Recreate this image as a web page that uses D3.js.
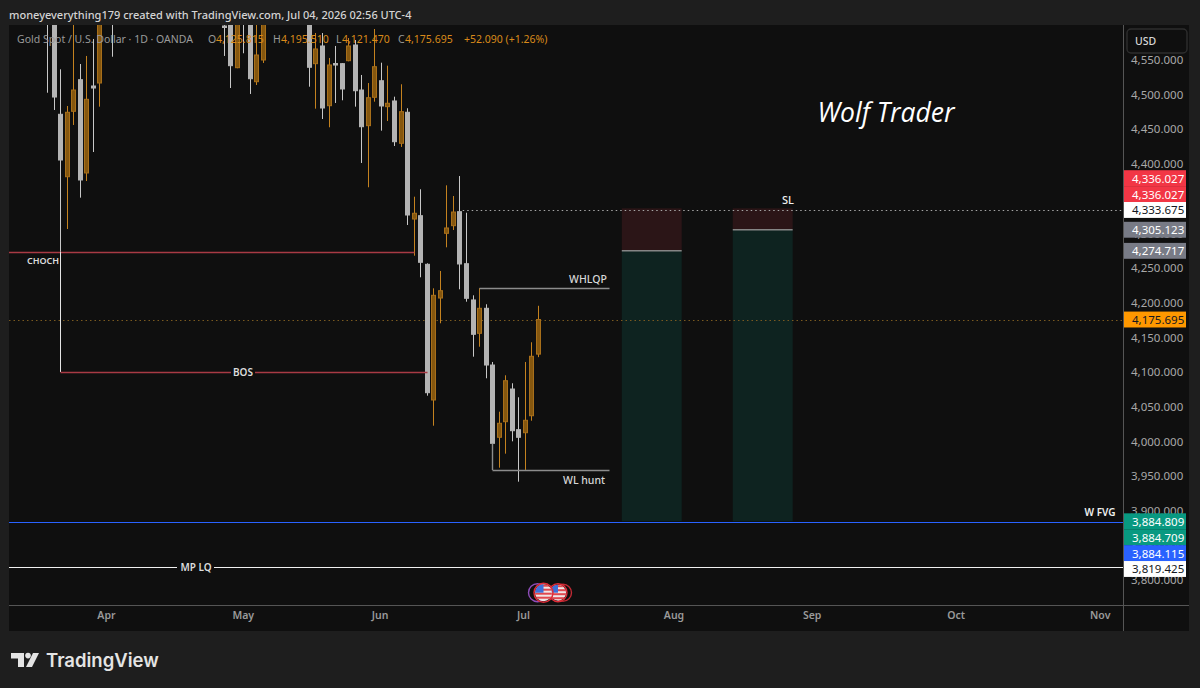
<!DOCTYPE html>
<html>
<head>
<meta charset="utf-8">
<script src="https://cdn.jsdelivr.net/npm/d3@7"></script>
<style>
  html, body { margin: 0; padding: 0; background: #1e1e1e; overflow: hidden; }
  svg { display: block; font-family: "Noto Sans", sans-serif; }
</style>
</head>
<body>
<div id="chart"></div>
<script>
// daily candles, only those that reach into the visible price range
const candleIdx = [0,1,2,3,4,5,6,7,8,10,27,28,29,30,31,32,33,40,41,42,43,44,45,46,47,48,49,50,51,52,53,54,55,56,57,58,59,60,61,62,63,64,65,66,67,68,69,70,71,72,73,74,75];
const opens  = [4650,4640,4471.6,4381.6,4475.9,4521.5,4387,4512.4,4516.7,4650,4598.9,4640,4538.8,4650,4640,4518.6,4549.9,4640,4544.6,4570.1,4484,4544.8,4544.6,4548.9,4571.5,4506.6,4455.2,4496.1,4520,4482.6,4490.8,4429.8,4474.5,4320.6,4325.4,4255.3,4059.7,4206.7,4300,4311,4331.2,4256.2,4203.9,4155.8,4191.9,4110.1,4005.9,4028.4,4075.5,4016.9,4012.5,4037,4125.815];
const highs  = [4660,4650,4536.5,4483.6,4620,4544.1,4555.7,4580.2,4640,4660,4605,4650,4650,4655,4650,4620,4640,4650,4588.8,4588.8,4552.8,4570.1,4545.5,4581.6,4578.7,4528.3,4516.7,4594.6,4546,4541.7,4497,4514.9,4480.3,4352.8,4363.5,4256.8,4220.7,4245.7,4369.2,4353.8,4382.6,4329.7,4210.6,4220.7,4197.7,4114.5,4042.8,4095.3,4083.8,4063.6,4114.5,4142.9,4195.51];
const lows   = [4502.7,4477.8,4273.1,4306.2,4456.2,4351.4,4375.4,4417.2,4482.6,4554.6,4555.7,4509.5,4538,4559.6,4500.9,4513.8,4545.6,4511.4,4479.7,4464.8,4452.9,4487.9,4491.8,4548,4482.6,4401.4,4366.4,4489.8,4448,4461.9,4425.9,4424.5,4312,4267.7,4236.6,4065.9,4022.6,4170.3,4279.8,4304.8,4219.3,4201.4,4122.1,4136.5,4091,3958.8,3962.1,3982.3,4000.1,3941.9,3958.8,4029.8,4121.47];
const closes = [4630,4496.5,4405.7,4474.5,4506.6,4376.9,4493.2,4509.5,4630,4610,4596.8,4541.7,4640,4615,4522.9,4557.1,4630,4539.4,4565.8,4480.7,4542.7,4542.7,4508.1,4570.1,4505.6,4453.7,4495.5,4540.2,4483.6,4487.5,4432.1,4475.4,4326.4,4328.9,4258.2,4070.2,4210.6,4217.3,4307.7,4330.7,4255.8,4206.3,4154.4,4191.9,4110.1,3997.2,4026.1,4087.5,4015.4,4005.9,4030.4,4122.7,4175.695];

const monthLabels = ["Apr","May","Jun","Jul","Aug","Sep","Oct","Nov"];
const monthIdx = [9, 29.9, 50.8, 72.7, 95.7, 116.8, 138.8, 160.8];
const priceTicks = [3800,3850,3900,3950,4000,4050,4100,4150,4200,4250,4300,4350,4400,4450,4500,4550];

const tagValues = [4336.027,4336.027,4333.675,4305.123,4274.717,4175.695,3884.809,3884.709,3884.115,3819.425];
const tagFills  = ["#f23645","#f23645","#ffffff","#787b86","#787b86","#ff9800","#089981","#089981","#2962ff","#ffffff"];
const tagInks   = ["#fff","#fff","#131722","#fff","#fff","#131722","#fff","#fff","#fff","#131722"];

const W = 1200, H = 688;
const panel = {left: 9, top: 25, right: 1189, bottom: 631};
const axisX = 1123, axisY = 605;

const x = d3.scaleLinear().domain([0, 75]).range([47, 538]);
const y = d3.scaleLinear().domain([3800, 4500]).range([580.1, 94.6]);
const snap = v => Math.round(v) + 0.5;

const ORANGE_FILL = "#85570f", ORANGE_LINE = "#a86f1a", ORANGE_WICK = "#c4821f";
const GREY_BODY = "#b4b4b4", GREY_WICK = "#c8c8c8";

const svg = d3.select("#chart").append("svg").attr("width", W).attr("height", H);

svg.append("rect").attr("width", W).attr("height", H).attr("fill", "#1e1e1e");
svg.append("rect").attr("x", panel.left).attr("y", panel.top)
  .attr("width", panel.right - panel.left).attr("height", panel.bottom - panel.top).attr("fill", "#0f0f0f");

svg.append("defs").append("clipPath").attr("id", "plot").append("rect")
  .attr("x", panel.left).attr("y", panel.top).attr("width", axisX - panel.left).attr("height", axisY - panel.top);

const plot = svg.append("g").attr("clip-path", "url(#plot)");

// position boxes (long / short tools)
function positionBox(i0, i1, stop, entry, target) {
  plot.append("rect").attr("x", x(i0)).attr("width", x(i1) - x(i0))
    .attr("y", y(stop)).attr("height", y(entry) - y(stop)).attr("fill", "#2b1517");
  plot.append("rect").attr("x", x(i0)).attr("width", x(i1) - x(i0))
    .attr("y", y(entry)).attr("height", y(target) - y(entry)).attr("fill", "#0e2320");
  plot.append("line").attr("x1", x(i0)).attr("x2", x(i1)).attr("y1", y(entry)).attr("y2", y(entry))
    .attr("stroke", "#858585").attr("stroke-width", 1.5);
}
positionBox(87.8, 96.95, 4336.027, 4274.717, 3884.809);
positionBox(104.75, 113.9, 4336.027, 4305.123, 3884.709);

// price lines
plot.append("line").attr("x1", x(63.5)).attr("x2", axisX).attr("y1", snap(y(4333.675))).attr("y2", snap(y(4333.675)))
  .attr("stroke", "#a8a8a8").attr("stroke-dasharray", "1.5 3");
plot.append("line").attr("x1", panel.left).attr("x2", axisX).attr("y1", snap(y(4175.695))).attr("y2", snap(y(4175.695)))
  .attr("stroke", "#7a5a20").attr("stroke-dasharray", "1.5 3");

// candles
const candles = candleIdx.map((idx, i) => ({idx, o: opens[i], h: highs[i], l: lows[i], c: closes[i]}));
const bodyW = 4;

plot.selectAll("line.wick").data(candles).enter().append("line")
  .attr("class", "wick")
  .attr("x1", d => snap(x(d.idx))).attr("x2", d => snap(x(d.idx)))
  .attr("y1", d => y(d.h)).attr("y2", d => y(d.l))
  .attr("stroke", d => d.c >= d.o ? ORANGE_WICK : GREY_WICK)
  .attr("stroke-width", 1);

plot.selectAll("rect.body").data(candles).enter().append("rect")
  .attr("class", "body")
  .attr("x", d => snap(x(d.idx)) - bodyW / 2).attr("width", bodyW)
  .attr("y", d => y(Math.max(d.o, d.c)))
  .attr("height", d => Math.max(1.5, Math.abs(y(d.o) - y(d.c))))
  .attr("fill", d => d.c >= d.o ? ORANGE_FILL : GREY_BODY)
  .attr("stroke", d => d.c >= d.o ? ORANGE_LINE : GREY_BODY);

// structure lines with their labels
function seg(i0, p0, i1, p1, color, width) {
  const flat = p0 === p1;
  plot.append("line")
    .attr("x1", i0 === null ? panel.left : snap(x(i0)))
    .attr("x2", i1 === "end" ? axisX : snap(x(i1)))
    .attr("y1", flat ? snap(y(p0)) : y(p0)).attr("y2", flat ? snap(y(p1)) : y(p1))
    .attr("stroke", color).attr("stroke-width", width || 1);
}
function note(txt, px, py, size, color, weight) {
  plot.append("text").attr("x", px).attr("y", py).attr("text-anchor", "middle")
    .attr("dominant-baseline", "central")
    .attr("font-size", size).attr("fill", color || "#e0e0e0").attr("font-weight", weight || 500).text(txt);
}

seg(null, 4273.1, 56, 4273.1, "#a83a44", 1.3);
seg(2, 4273.1, 2, 4100, "#e4e4e4");
seg(2, 4100, 58, 4100, "#a83a44", 1.3);
seg(66, 4220.7, 66, 4191.9, "#b87a1e");
seg(66, 4220.7, 85.8, 4220.7, "#8c8c8c", 1.4);
seg(68, 3958.8, 85.8, 3958.8, "#8c8c8c", 1.4);
seg(68, 3997.2, 68, 3958.8, "#8c8c8c", 1.4);
seg(null, 3884.115, "end", 3884.115, "#2962ff");
seg(null, 3819.425, "end", 3819.425, "#f0f0f0", 1.2);

// gaps behind the labels that sit on a line
plot.append("rect").attr("x", 231).attr("y", y(4100) - 2).attr("width", 24).attr("height", 4).attr("fill", "#0f0f0f");
plot.append("rect").attr("x", 177).attr("y", y(3819.425) - 2).attr("width", 37).attr("height", 4).attr("fill", "#0f0f0f");

note("CHOCH", 43, 260, 9, "#dcdcdc", 600);
note("BOS", 243, y(4100), 10, "#dcdcdc", 600);
note("MP LQ", 196, y(3819.425), 10, "#dcdcdc", 600);
note("WHLQP", 588, 279, 10.5, "#d8d8d8");
note("WL hunt", 584, 480, 10.5, "#d8d8d8");
note("SL", 788, 199, 11, "#f0f0f0");
note("W FVG", 1100, 512, 10, "#f0f0f0", 600);

plot.append("text").attr("x", 886).attr("y", 112).attr("text-anchor", "middle")
  .attr("dominant-baseline", "central").attr("font-family", "'Open Sans', sans-serif")
  .attr("font-style", "italic").attr("font-size", 26.5).attr("fill", "#fff").text("Wolf Trader");

// economic event flags
const flagDefs = svg.select("defs");
function flag(cx, r, ring, idn, full) {
  const g = svg.append("g");
  if (!full) {
    g.append("circle").attr("cx", cx).attr("cy", 592.7).attr("r", r).attr("fill", "#0f0f0f")
      .attr("stroke", ring).attr("stroke-width", 1.4);
    return;
  }
  flagDefs.append("clipPath").attr("id", idn).append("circle").attr("cx", cx).attr("cy", 592.7).attr("r", r - 1);
  const f = g.append("g").attr("clip-path", `url(#${idn})`);
  f.append("rect").attr("x", cx - r).attr("y", 592.7 - r).attr("width", 2 * r).attr("height", 2 * r).attr("fill", "#f0e6e6");
  d3.range(4).forEach(k => f.append("rect").attr("x", cx - r).attr("y", 592.7 - r + 1.5 + k * 4)
    .attr("width", 2 * r).attr("height", 2).attr("fill", "#e0484f"));
  f.append("rect").attr("x", cx - r).attr("y", 592.7 - r).attr("width", r).attr("height", r).attr("fill", "#3f6fd8");
  g.append("circle").attr("cx", cx).attr("cy", 592.7).attr("r", r).attr("fill", "none")
    .attr("stroke", ring).attr("stroke-width", 1.4);
}
flag(537.5, 9, "#8e4db8", "", false);
flag(563, 8.5, "#c02a34", "", false);
flag(558, 9, "#e02c38", "f2", true);
flag(543.5, 9.5, "#e02c38", "f1", true);

// axis frame
svg.append("line").attr("x1", axisX + 0.5).attr("x2", axisX + 0.5).attr("y1", panel.top).attr("y2", panel.bottom).attr("stroke", "#555");
svg.append("line").attr("x1", panel.left).attr("x2", panel.right).attr("y1", axisY + 0.5).attr("y2", axisY + 0.5).attr("stroke", "#555");

// price axis
const priceAxis = svg.append("g").attr("transform", `translate(${axisX + 8},0)`)
  .call(d3.axisRight(y).tickValues(priceTicks).tickFormat(d3.format(",.3f")).tickSize(0).tickPadding(0));
priceAxis.select(".domain").remove();
priceAxis.selectAll("text").attr("font-size", 11.5).attr("fill", "#a8a8a8")
  .attr("font-family", "'Noto Sans', sans-serif");

// time axis
const timeAxis = svg.append("g").attr("transform", `translate(0,${axisY + 7})`)
  .call(d3.axisBottom(x).tickValues(monthIdx).tickFormat((d, i) => monthLabels[i]).tickSize(0).tickPadding(0));
timeAxis.select(".domain").remove();
timeAxis.selectAll("text").attr("font-size", 10.5).attr("font-weight", 600).attr("fill", "#9a9a9a")
  .attr("font-family", "'Noto Sans', sans-serif");

// price tags: stacked away from the pinned stop tag and from the first tag of the lower group
const TAG_H = 15.9;
const tagY = tagValues.map(v => y(v));
const pin = tagValues.indexOf(4333.675);
for (let i = pin - 1; i >= 0; i--) tagY[i] = Math.min(tagY[i], tagY[i + 1] - TAG_H);
for (let i = pin + 1; i < tagY.length; i++) tagY[i] = Math.max(tagY[i], tagY[i - 1] + TAG_H);

const tagG = svg.selectAll("g.tag").data(tagValues).enter().append("g").attr("class", "tag")
  .attr("transform", (d, i) => `translate(${axisX + 1},${tagY[i]})`);
tagG.append("rect").attr("y", -TAG_H / 2).attr("width", 62).attr("height", TAG_H)
  .attr("fill", (d, i) => tagFills[i]);
tagG.append("text").attr("x", 8).attr("dominant-baseline", "central").attr("font-size", 11.5)
  .attr("fill", (d, i) => tagInks[i]).text(d => d3.format(",.3f")(d));

// currency button
svg.append("rect").attr("x", 1127).attr("y", 29).attr("width", 60).attr("height", 24).attr("rx", 4)
  .attr("fill", "#0f0f0f").attr("stroke", "#2e2e2e").attr("stroke-width", 1.4);
svg.append("text").attr("x", 1135).attr("y", 41).attr("dominant-baseline", "central")
  .attr("font-size", 10.5).attr("font-weight", 500).attr("fill", "#d8d8d8").text("USD");

// header
svg.append("text").attr("x", 9).attr("y", 14).attr("dominant-baseline", "central")
  .attr("font-size", 11).attr("font-weight", 500).attr("fill", "#d4d4d4")
  .text("moneyeverything179 created with TradingView.com, Jul 04, 2026 02:56 UTC-4");

const legend = svg.append("g").attr("font-size", 10.5).attr("fill", "#9a9a9a");
function legendText(px, txt, color) {
  legend.append("text").attr("x", px).attr("y", 39).attr("dominant-baseline", "central")
    .attr("fill", color || "#9a9a9a").text(txt);
}
legendText(17, "Gold Spot / U.S. Dollar · 1D · OANDA");
legendText(208, "O"); legendText(216, "4,125.815", "#d98a1a");
legendText(273, "H"); legendText(281, "4,195.510", "#d98a1a");
legendText(336, "L"); legendText(342, "4,121.470", "#d98a1a");
legendText(398, "C"); legendText(405, "4,175.695", "#d98a1a");
legendText(464, "+52.090 (+1.26%)", "#d98a1a");

// TradingView mark
const logo = svg.append("g").attr("fill", "#e4e4e4");
logo.append("path").attr("d", "M11 653H24V667H18V658.5H11Z");
logo.append("circle").attr("cx", 28).attr("cy", 655.6).attr("r", 2.8);
logo.append("path").attr("d", "M33 653H39L32 667H26Z");
logo.append("text").attr("x", 46).attr("y", 660).attr("dominant-baseline", "central")
  .attr("font-family", "Inter, sans-serif").attr("font-size", 18.5).attr("font-weight", 600)
  .text("TradingView");
</script>
</body>
</html>
